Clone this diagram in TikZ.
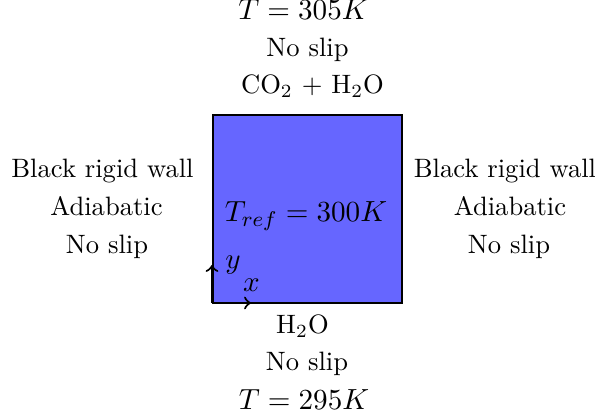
\documentclass[tikz,border=0pt]{standalone}
\begin{document}
\begin{tikzpicture}[x=0.376pt,y=-0.376pt,
  lbl/.style={inner sep=0pt, anchor=base},
  mlbl/.style={lbl, font=\fontsize{11}{13.5}\selectfont},
  ax/.style={->, thick}]
\useasboundingbox (0,0) rectangle (595,418);
\fill[blue!60] (213,115) rectangle (402,303);
\draw[thin] (213,115) rectangle (402,303);
\node[mlbl] (t1) at (303.5,19.5) {$T=305K$};
\node[lbl] (t2) at (307.5,57) {No slip};
\node[lbl] (t3) at (312.5,93.5) {CO$_2$ + H$_2$O};
\node[lbl] (l1) at (102.5,178) {Black rigid wall};
\node[lbl] (l2) at (106.5,216) {Adiabatic};
\node[lbl] (l3) at (107,253.5) {No slip};
\node[lbl] (r1) at (505,178) {Black rigid wall};
\node[lbl] (r2) at (510,216) {Adiabatic};
\node[lbl] (r3) at (509,253.5) {No slip};
\node[mlbl] (c) at (306,222) {$T_{ref}=300K$};
\node[lbl] (b1) at (302.5,334) {H$_2$O};
\node[lbl] (b2) at (307,370.5) {No slip};
\node[mlbl] (b3) at (304,410) {$T=295K$};
\coordinate (o) at (212,303);
\coordinate (xe) at (251,303);
\coordinate (ye) at (212,265);
\draw[ax] (o) -- (xe);
\draw[ax] (o) -- (ye);
\node[mlbl] (xl) at (251.5,292) {$x$};
\node[mlbl] (yl) at (233,269) {$y$};
\end{tikzpicture}
\end{document}
